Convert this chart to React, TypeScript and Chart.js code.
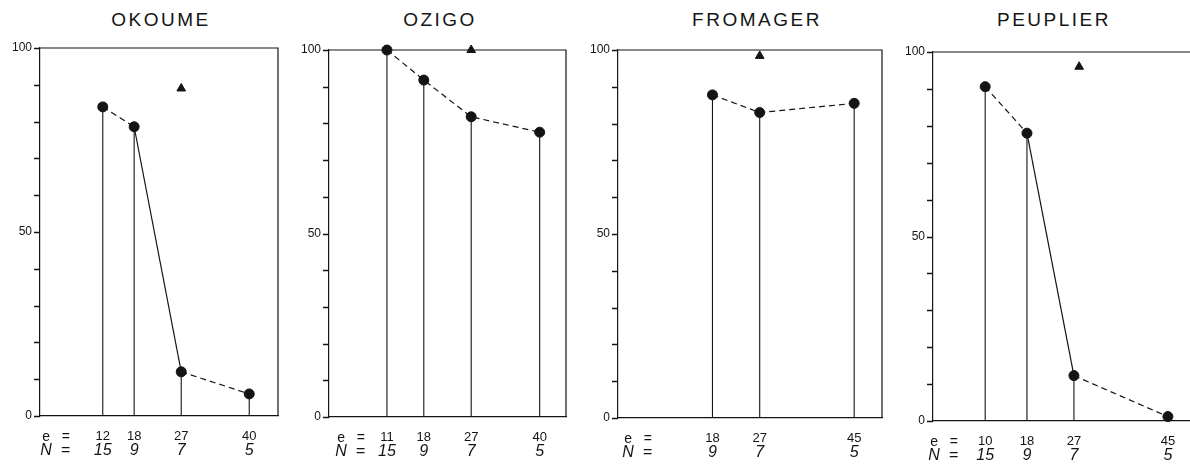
import React, { useEffect, useRef } from "react";
import { Chart, registerables } from "chart.js";

Chart.register(...registerables);

// ---------- DATA ----------
const okoumeE = [12, 18, 27, 40];
const okoumeN = [15, 9, 7, 5];
const okoumeValues = [84, 78.6, 12, 6];
const okoumeSegments = ["dash", "solid", "dash"];
const okoumeTriangle = [{ x: 27, y: 89 }];

const ozigoE = [11, 18, 27, 40];
const ozigoN = [15, 9, 7, 5];
const ozigoValues = [100, 91.8, 81.8, 77.6];
const ozigoSegments = ["dash", "dash", "dash"];
const ozigoTriangle = [{ x: 27, y: 100 }];

const fromagerE = [18, 27, 45];
const fromagerN = [9, 7, 5];
const fromagerValues = [87.8, 83, 85.5];
const fromagerSegments = ["dash", "dash"];
const fromagerTriangle = [{ x: 27, y: 98.4 }];

const peuplierE = [10, 18, 27, 45];
const peuplierN = [15, 9, 7, 5];
const peuplierValues = [90.6, 78, 12.3, 1.2];
const peuplierSegments = ["dash", "solid", "dash"];
const peuplierTriangle = [{ x: 28, y: 96 }];

const yTickLabels = [0, 50, 100];

// ---------- LAYOUT ----------
type PanelDef = {
  title: string;
  e: number[];
  n: number[];
  values: number[];
  segments: string[];
  triangle: { x: number; y: number }[];
  xMax: number;
  left: number;
  right: number;
  top: number;
  bottom: number;
  titleX: number;
  labelRight: number;
};

const panels: PanelDef[] = [
  { title: "OKOUME", e: okoumeE, n: okoumeN, values: okoumeValues, segments: okoumeSegments, triangle: okoumeTriangle, xMax: 45.5, left: 40, right: 278, top: 48, bottom: 416, titleX: 161, labelRight: 30 },
  { title: "OZIGO", e: ozigoE, n: ozigoN, values: ozigoValues, segments: ozigoSegments, triangle: ozigoTriangle, xMax: 45, left: 329, right: 566, top: 50, bottom: 417, titleX: 440, labelRight: 36 },
  { title: "FROMAGER", e: fromagerE, n: fromagerN, values: fromagerValues, segments: fromagerSegments, triangle: fromagerTriangle, xMax: 50.3, left: 618, right: 882, top: 50, bottom: 418, titleX: 757, labelRight: 34 },
  { title: "PEUPLIER", e: peuplierE, n: peuplierN, values: peuplierValues, segments: peuplierSegments, triangle: peuplierTriangle, xMax: 50, left: 933, right: 1194, top: 52, bottom: 421, titleX: 1054, labelRight: 25 },
];

const AXIS_W = 40;
const RIGHT_PAD = 6;
const H = 470;
const INK = "#141414";
const FONT = "'Liberation Sans', Arial, sans-serif";

function Panel({ p }: { p: PanelDef }) {
  const ref = useRef<HTMLCanvasElement | null>(null);
  const width = p.right - p.left + AXIS_W + RIGHT_PAD;

  useEffect(() => {
    if (!ref.current) return;
    const stems = p.e.map((x, i) => ({
      type: "line" as const,
      data: [
        { x, y: 0 },
        { x, y: p.values[i] },
      ],
      borderColor: INK,
      borderWidth: 1.1,
      pointRadius: 0,
      clip: false as any,
    }));

    const framePlugin = {
      id: "frame",
      beforeDatasetsDraw(chart: any) {
        const { ctx, chartArea: a } = chart;
        ctx.save();
        ctx.strokeStyle = INK;
        ctx.lineWidth = 1.2;
        ctx.beginPath();
        ctx.moveTo(a.left, a.top);
        ctx.lineTo(a.right, a.top);
        ctx.lineTo(a.right, a.bottom);
        ctx.stroke();
        ctx.restore();
      },
      afterDraw(chart: any) {
        const { ctx, chartArea: a, scales } = chart;
        const x = scales.x;
        const y = scales.y;
        ctx.save();
        // y tick marks, every 10, outside to the left
        ctx.strokeStyle = INK;
        ctx.lineWidth = 1.3;
        ctx.beginPath();
        for (let v = 0; v <= 100; v += 10) {
          const py = Math.round(y.getPixelForValue(v)) + 0.5;
          ctx.moveTo(a.left - 6, py);
          ctx.lineTo(a.left, py);
        }
        ctx.stroke();
        ctx.fillStyle = INK;
        ctx.textBaseline = "middle";
        ctx.textAlign = "right";
        ctx.font = `14px ${FONT}`;
        ctx.fillText("e   =", a.left + p.labelRight, a.bottom + 21);
        ctx.font = `italic 16px ${FONT}`;
        ctx.fillText("N  =", a.left + p.labelRight, a.bottom + 35);
        ctx.textAlign = "center";
        p.n.forEach((nv, i) => {
          ctx.fillText(String(nv), x.getPixelForValue(p.e[i]), a.bottom + 35);
        });
        ctx.restore();
      },
    };

    const chart = new Chart(ref.current, {
      type: "line",
      data: {
        datasets: [
          ...stems,
          {
            type: "line" as const,
            data: p.e.map((x, i) => ({ x, y: p.values[i] })),
            borderColor: INK,
            borderWidth: 1.2,
            pointRadius: 5,
            pointBackgroundColor: INK,
            pointBorderColor: INK,
            pointBorderWidth: 1,
            clip: false as any,
            segment: {
              borderDash: (ctx: any) => (p.segments[ctx.p0DataIndex] === "dash" ? [6, 4] : undefined),
            },
          },
          {
            type: "scatter" as const,
            data: p.triangle,
            pointStyle: "triangle",
            pointRadius: 5,
            pointBackgroundColor: INK,
            pointBorderColor: INK,
            showLine: false,
            clip: false as any,
          },
        ] as any,
      },
      options: {
        animation: false,
        responsive: false,
        events: [],
        layout: { padding: { top: p.top, left: 0, right: RIGHT_PAD, bottom: 0 } },
        plugins: { legend: { display: false }, tooltip: { enabled: false }, title: { display: false } },
        scales: {
          x: {
            type: "linear",
            min: 0,
            max: p.xMax,
            border: { display: true, color: INK, width: 1.2 },
            grid: { display: false, drawTicks: false },
            afterBuildTicks: (s: any) => {
              s.ticks = p.e.map((v) => ({ value: v }));
            },
            afterFit: (s: any) => {
              s.height = H - p.bottom;
            },
            ticks: {
              autoSkip: false,
              maxRotation: 0,
              padding: 13,
              color: INK,
              font: { family: FONT, size: 13 },
              callback: (v: any) => String(v),
            },
          },
          y: {
            type: "linear",
            min: 0,
            max: 100,
            border: { display: true, color: INK, width: 1.2 },
            grid: { display: false, drawTicks: false },
            afterFit: (s: any) => {
              s.width = AXIS_W;
            },
            ticks: {
              stepSize: 10,
              autoSkip: false,
              padding: 8,
              color: INK,
              font: { family: FONT, size: 12 },
              callback: (v: any) => (yTickLabels.includes(Number(v)) ? String(v) : ""),
            },
          },
        },
      } as any,
      plugins: [framePlugin],
    });
    return () => chart.destroy();
  }, []);

  return (
    <>
      <div
        style={{
          position: "absolute",
          left: p.titleX - 120,
          width: 240,
          top: 8,
          textAlign: "center",
          fontFamily: FONT,
          fontSize: 19,
          letterSpacing: 2.5,
          color: INK,
          lineHeight: "24px",
        }}
      >
        {p.title}
      </div>
      <canvas
        ref={ref}
        width={width}
        height={H}
        style={{ position: "absolute", left: p.left - AXIS_W, top: 0, width, height: H }}
      />
    </>
  );
}

export default function App() {
  return (
    <div
      style={{
        position: "fixed",
        left: 0,
        top: 0,
        width: 1190,
        height: 470,
        overflow: "hidden",
        background: "#fff",
      }}
    >
      {panels.map((p) => (
        <Panel key={p.title} p={p} />
      ))}
    </div>
  );
}
